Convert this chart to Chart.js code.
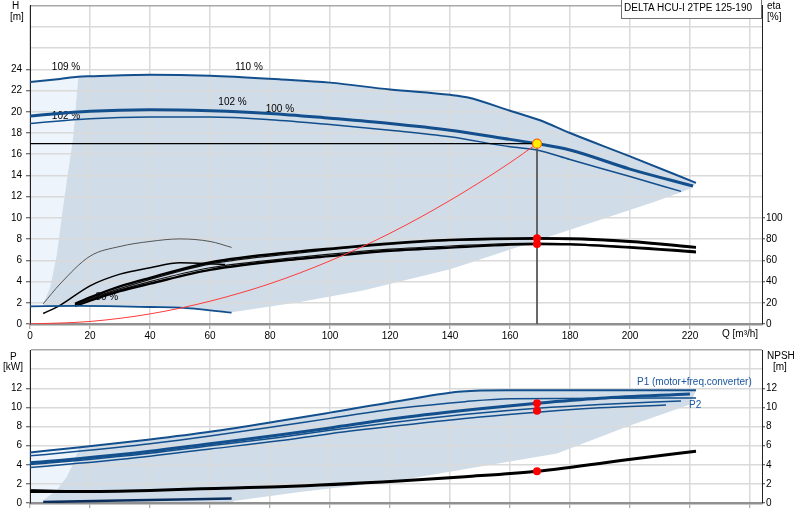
<!DOCTYPE html>
<html><head><meta charset="utf-8">
<script src="https://cdn.jsdelivr.net/npm/chart.js@4.4.1/dist/chart.umd.min.js"></script>
<style>
body{margin:0;background:#fff;width:800px;height:520px;overflow:hidden;position:relative;font-family:"Liberation Sans",Arial,sans-serif;}
canvas{position:absolute;left:0;}
#c1{top:0} #c2{top:340px}
.t{position:absolute;font-size:10px;line-height:12px;color:#000;white-space:nowrap}
.b{color:#1c56a0}
#box{position:absolute;left:621px;top:-1px;width:141px;height:20px;box-sizing:border-box;border:1px solid #707070;background:#fff;font-size:10px;line-height:15px;padding-left:2px;white-space:nowrap}
</style></head><body>
<canvas id="c1" width="800" height="340"></canvas>
<canvas id="c2" width="800" height="180"></canvas>
<div class="t" style="left:12px;top:0">H</div>
<div class="t" style="left:10px;top:11px">[m]</div>
<div class="t" style="left:767px;top:0">eta</div>
<div class="t" style="left:767px;top:11px">[%]</div>
<div id="box">DELTA HCU-I 2TPE 125-190</div>
<div class="t" style="left:722px;top:328px">Q [m³/h]</div>
<div class="t" style="left:10px;top:351px">P</div>
<div class="t" style="left:3px;top:361px">[kW]</div>
<div class="t" style="left:767px;top:350px">NPSH</div>
<div class="t" style="left:773px;top:361px">[m]</div>
<div class="t b" style="left:637px;top:376px">P1 (motor+freq.converter)</div>
<div class="t b" style="left:689px;top:399px">P2</div>
<script>
// ---------- data ----------
const qTickMaxLabel = 220;
const opQ = 169, opH = 17;

const hMaxQ = [0, 10, 16, 20, 40, 60, 83, 100, 120, 140, 146, 160, 170, 180, 200, 222];
const hMaxH = [22.8, 23.1, 23.3, 23.35, 23.5, 23.4, 23.06, 22.75, 22.1, 21.6, 21.35, 20.1, 19.2, 18.0, 15.8, 13.3];
const h102Q = [0, 20, 40, 60, 80, 100, 120, 140, 160, 169, 180, 200, 221];
const h102H = [19.6, 20.05, 20.2, 20.1, 19.85, 19.4, 18.9, 18.27, 17.4, 17.0, 16.4, 14.6, 13.0];
const h100Q = [0, 20, 40, 60, 80, 100, 120, 140, 160, 169, 180, 200, 217];
const h100H = [18.9, 19.35, 19.5, 19.5, 19.25, 18.8, 18.27, 17.65, 16.7, 16.4, 15.5, 13.9, 12.5];
const hMinQ = [0, 16, 30, 40, 50, 67.2];
const hMinH = [1.67, 1.7, 1.66, 1.6, 1.54, 1.08];

const sysQ = [0, 20, 40, 60, 80, 100, 120, 140, 160, 169];
const sysH = [0, 0.24, 0.95, 2.15, 3.8, 5.95, 8.55, 11.65, 15.2, 17.0];

const etaUpQ = [15, 20, 30, 40, 60, 90, 100, 120, 140, 169, 180, 200, 222];
const etaUp  = [19, 25, 35.5, 43.5, 58, 68.5, 71, 76, 79.3, 80.8, 80.6, 78, 72.5];
const etaUpBQ = [15, 20, 40, 60, 90, 120, 140, 169, 200, 222];
const etaUpB  = [17.5, 23.5, 42, 56.5, 67, 75, 78.5, 80, 77, 71.5];
const etaLoQ = [15, 20, 30, 40, 60, 90, 100, 120, 140, 169, 180, 200, 222];
const etaLo  = [17, 22, 31, 38, 51, 61.5, 64, 69, 72, 75.3, 75, 72, 67.6];
const etaLoBQ = [15, 20, 40, 60, 90, 120, 140, 169, 200, 222];
const etaLoB  = [18, 23.5, 40, 53, 63, 70.5, 73.5, 76.3, 73, 68.8];
const eta1Q = [4.4, 10, 20, 30, 40, 50, 60, 67.2];
const eta1  = [19, 37.7, 63.9, 73.1, 77.8, 80.2, 77.8, 72.2];
const eta2Q = [4.4, 10, 20, 30, 40, 50, 60, 65];
const eta2  = [9.9, 17.6, 36, 47, 53, 57.7, 56.8, 56];
const etaDots = [80.8, 75.3];

const darkQ = [4.4, 6.7, 8.9, 11.1, 12.5, 14.4, 16.1, 20, 40, 60, 83, 100, 120, 140, 146, 160, 170, 180, 200, 222, 220.5, 216.7, 208, 146.7, 140, 111, 90, 67.8, 50, 30, 16, 4.4];
const darkH = [1.9, 3.45, 6.5, 11.2, 14.0, 17.65, 23.3, 23.35, 23.5, 23.4, 23.06, 22.75, 22.1, 21.6, 21.35, 20.1, 19.2, 18.0, 15.8, 13.3, 12.8, 12.4, 11.5, 5.77, 5.15, 3.15, 2.07, 1.14, 1.54, 1.65, 1.7, 1.72];
const lightQ = [0, 10, 16.1, 14.4, 12.5, 11.1, 8.9, 6.7, 4.4, 0];
const lightH = [22.8, 23.1, 23.3, 17.65, 14.0, 11.2, 6.5, 3.45, 1.9, 1.67];

const pctText = ['109 %', '110 %', '102 %', '100 %', '102 %', '30 %'];
const pctQ = [12, 73, 67.5, 83.3, 12, 25.6];
const pctH = [24.2, 24.2, 20.9, 20.2, 19.6, 2.5];

// power / NPSH
const pAQ = [0, 16, 40, 60, 83, 100, 123, 144, 160, 222];
const pA  = [5.29, 5.8, 6.65, 7.45, 8.57, 9.45, 10.67, 11.65, 11.78, 11.8];
const pBQ = [0, 16, 40, 60, 83, 100, 123, 145, 160, 222];
const pB  = [4.93, 5.4, 6.2, 7.0, 8.05, 8.85, 9.9, 10.6, 10.9, 10.98];
const pCQ = [0, 16, 40, 60, 83, 100, 123, 150, 169, 190, 220];
const pC  = [4.2, 4.62, 5.4, 6.2, 7.1, 7.85, 8.88, 9.85, 10.43, 10.95, 11.4];
const pDQ = [0, 16, 40, 60, 83, 100, 123, 150, 169, 190, 217];
const pD  = [4.03, 4.45, 5.2, 5.98, 6.86, 7.6, 8.5, 9.4, 9.9, 10.3, 10.67];
const pEQ = [0, 16, 40, 60, 83, 100, 123, 150, 169, 190, 212];
const pE  = [3.71, 4.15, 4.9, 5.65, 6.5, 7.25, 8.1, 9.0, 9.5, 9.95, 10.25];
const p30Q = [4.4, 30, 67.2];
const p30  = [0.1, 0.25, 0.46];
const npQ = [0, 16, 40, 57, 83, 123, 145, 169, 201, 222];
const np  = [1.2, 1.2, 1.32, 1.5, 1.7, 2.3, 2.75, 3.33, 4.6, 5.42];
const np2Q = [0, 10, 20];
const np2  = [1.42, 1.32, 1.25];
const pDots = [10.43, 9.65];
const npDot = [3.33];

const pDarkQ = [4.4, 8.9, 12.2, 14.4, 16.5, 40, 60, 83, 100, 123, 144, 160, 222, 220, 200, 175.6, 123.3, 90, 67.8, 67.8, 4.4];
const pDarkP = [0.28, 1.33, 2.73, 4.13, 5.82, 6.65, 7.45, 8.57, 9.45, 10.67, 11.65, 11.78, 11.8, 10.3, 8.1, 5.18, 2.38, 1.15, 0.2, 0, 0];
const pLightQ = [0, 16.5, 14.4, 12.2, 8.9, 4.4, 4.4, 0];
const pLightP = [5.29, 5.82, 4.13, 2.73, 1.33, 0.28, 0, 0];

// ---------- helpers ----------
const pts = (xs, ys) => xs.map((x, i) => ({x: x, y: ys[i]}));
const BLUE = '#124f8c', DARK = '#d0dce8', LIGHT = '#edf4fb';
const GRID = '#dadada';
function curve(data, color, width, axis) {
  return {data, borderColor: color, borderWidth: width, pointRadius: 0, fill: false,
    tension: 0.4, cubicInterpolationMode: 'monotone', yAxisID: axis || 'y'};
}
function straight(data, color, width, axis) {
  return {data, borderColor: color, borderWidth: width, pointRadius: 0, fill: false, tension: 0, yAxisID: axis || 'y'};
}
function shape(data, color) {
  return {data, borderColor: 'rgba(0,0,0,0)', borderWidth: 1, backgroundColor: color, pointRadius: 0, fill: 'shape', tension: 0, yAxisID: 'y'};
}
function dots(data, axis) {
  return {data, showLine: false, pointRadius: 4, pointBackgroundColor: '#ff0000', pointBorderColor: '#ff0000', pointBorderWidth: 0, yAxisID: axis || 'y'};
}

Chart.defaults.font.family = '"Liberation Sans", Arial, sans-serif';
Chart.defaults.font.size = 10;
Chart.defaults.color = '#000';

function xScale(height, showLabels) {
  return {type: 'linear', min: 0, max: 244,
    ticks: {display: showLabels, stepSize: 20, includeBounds: false, padding: 1, maxRotation: 0, autoSkip: false,
      callback: v => (v <= qTickMaxLabel ? v : '')},
    grid: {color: GRID, lineWidth: 1.5, tickLength: 5, tickColor: '#999', tickWidth: 1},
    border: {color: '#909090', width: 2.5},
    afterFit(s) { s.height = height; s.paddingLeft = 0; s.paddingRight = 0; }};
}
function yScale(max, labelMax, pos, width, onArea) {
  return {type: 'linear', position: pos, min: 0, max: max,
    ticks: {stepSize: max / 15 > 3 ? 20 : 2, padding: pos === 'left' ? 4 : 1, autoSkip: false,
      callback: v => (v <= labelMax ? v : '')},
    grid: {drawOnChartArea: onArea, tickLength: pos === 'left' ? 4 : 3, tickWidth: 1,
      lineWidth: c => (c.tick && c.tick.value === max) ? 1.5 : 1.5,
      color: c => (c.tick && c.tick.value === max) ? '#a8a8a8' : GRID,
      tickColor: c => (c.tick && c.tick.value > labelMax) ? 'rgba(0,0,0,0)' : '#444'},
    border: {color: '#222', width: 1},
    afterFit(s) { s.width = width; s.paddingTop = 0; s.paddingBottom = 0; s.paddingLeft = 0; s.paddingRight = 0; }};
}

const pctPlugin = {id: 'pct', beforeDatasetsDraw(chart) {
  const ctx = chart.ctx, x = chart.scales.x, y = chart.scales.y;
  ctx.save();
  ctx.font = '10px "Liberation Sans", Arial, sans-serif';
  ctx.fillStyle = '#000'; ctx.textAlign = 'center'; ctx.textBaseline = 'middle';
  pctText.forEach((t, i) => ctx.fillText(t, x.getPixelForValue(pctQ[i]), y.getPixelForValue(pctH[i])));
  ctx.restore();
}};

const common = {responsive: false, animation: false, devicePixelRatio: 1,
  plugins: {legend: {display: false}, tooltip: {enabled: false}, filler: {propagate: false, drawTime: 'beforeDraw'}}};

// ---------- top chart ----------
new Chart(document.getElementById('c1'), {
  type: 'line',
  data: {datasets: [
    {data: [{x: opQ, y: opH}], showLine: false, pointRadius: 4.5, pointBackgroundColor: '#ffee00', pointBorderColor: '#ff6a00', pointBorderWidth: 1.2, yAxisID: 'y'},
    dots(pts([opQ, opQ], etaDots), 'eta'),
    curve(pts(sysQ, sysH), '#ff3b3b', 1),
    straight(pts([0, opQ], [opH, opH]), '#000', 1.2),
    straight(pts([opQ, opQ], [opH, 0]), '#555', 1),
    curve(pts(hMaxQ, hMaxH), BLUE, 2),
    curve(pts(h102Q, h102H), BLUE, 3),
    curve(pts(h100Q, h100H), BLUE, 1.5),
    curve(pts(hMinQ, hMinH), BLUE, 1.8),
    curve(pts(etaUpQ, etaUp), '#000', 2.4, 'eta'),
    curve(pts(etaUpBQ, etaUpB), '#111', 1.2, 'eta'),
    curve(pts(etaLoQ, etaLo), '#000', 2.4, 'eta'),
    curve(pts(etaLoBQ, etaLoB), '#111', 1.2, 'eta'),
    curve(pts(eta1Q, eta1), '#555', 1, 'eta'),
    curve(pts(eta2Q, eta2), '#000', 1.5, 'eta'),
    shape(pts(darkQ, darkH), DARK),
    shape(pts(lightQ, lightH), LIGHT)
  ]},
  options: Object.assign({}, common, {
    layout: {padding: {top: 1, left: 0, right: 0, bottom: 0}},
    scales: {
      x: xScale(16, true),
      y: yScale(30, 24, 'left', 30, true),
      eta: yScale(300, 100, 'right', 38, false)
    }}),
  plugins: [pctPlugin]
});

// ---------- bottom chart ----------
new Chart(document.getElementById('c2'), {
  type: 'line',
  data: {datasets: [
    dots(pts([opQ, opQ], pDots), 'y'),
    dots(pts([opQ], npDot), 'np'),
    curve(pts(pAQ, pA), BLUE, 2),
    curve(pts(pBQ, pB), BLUE, 1.5),
    curve(pts(pCQ, pC), BLUE, 3),
    curve(pts(pDQ, pD), BLUE, 1.5),
    curve(pts(pEQ, pE), BLUE, 1.5),
    curve(pts(p30Q, p30), '#0c2f5e', 2.5),
    curve(pts(npQ, np), '#000', 3, 'np'),
    curve(pts(np2Q, np2), '#222', 1, 'np'),
    shape(pts(pDarkQ, pDarkP), DARK),
    shape(pts(pLightQ, pLightP), LIGHT)
  ]},
  options: Object.assign({}, common, {
    layout: {padding: {top: 10, left: 0, right: 0, bottom: 0}},
    scales: {
      x: xScale(17, false),
      y: yScale(16, 12, 'left', 30, true),
      np: yScale(16, 12, 'right', 38, false)
    }})
});
</script>
</body></html>
